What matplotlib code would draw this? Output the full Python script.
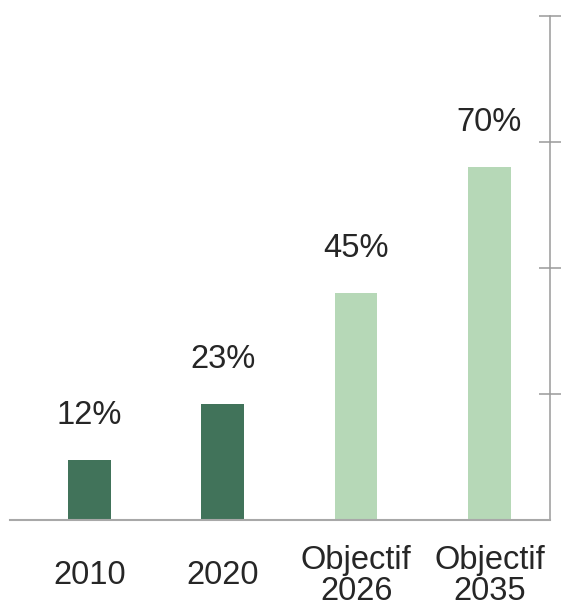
import matplotlib.pyplot as plt
import numpy as np

plt.rcParams['font.family'] = ['Liberation Sans', 'DejaVu Sans']

# données
categories = ['2010', '2020', 'Objectif\n2026', 'Objectif\n2035']
valeurs = [12, 23, 45, 70]
couleurs = ['#41735A', '#41735A', '#B6D8B7', '#B6D8B7']
y_ticks = [25, 50, 75, 100]

fig = plt.figure(figsize=(5.63, 6.06), dpi=100)
ax = fig.add_axes([10 / 563, 86 / 606, 540 / 563, 504 / 606])

x = np.arange(len(categories))
bars = ax.bar(x, valeurs, width=0.32, color=couleurs, zorder=2)

# étiquettes de valeur au-dessus des barres
for xi, v in zip(x, valeurs):
    ax.annotate(f'{v}%', xy=(xi, v), xytext=(0, 32), textcoords='offset points',
                ha='center', va='center', fontsize=23.5, color='#262626')

ax.set_xlim(-0.596, 3.454)
ax.set_ylim(0, 100)

# axes
for side in ['top', 'left']:
    ax.spines[side].set_visible(False)
ax.spines['bottom'].set_color('#A8A8A8')
ax.spines['bottom'].set_linewidth(1.5)
ax.spines['bottom'].set_zorder(3)
ax.spines['right'].set_color('#9A9A9A')
ax.spines['right'].set_linewidth(1.1)

ax.yaxis.tick_right()
ax.set_yticks(y_ticks)
ax.tick_params(axis='y', direction='inout', length=16, width=1.1,
               color='#9A9A9A', labelright=False)

ax.set_xticks(x)
ax.set_xticklabels(categories, fontsize=23.5, color='#262626', linespacing=1.0)
ax.tick_params(axis='x', length=0, pad=40)
for lab in ax.get_xticklabels():
    lab.set_va('center')

fig.savefig('out.png', dpi=100)
